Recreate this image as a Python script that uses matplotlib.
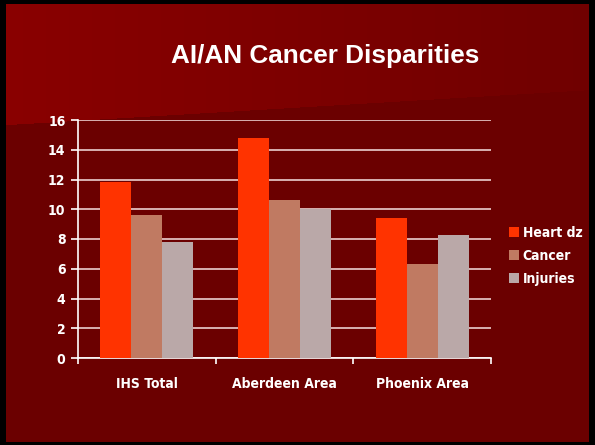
import numpy as np
import matplotlib
matplotlib.use("Agg")
import matplotlib.pyplot as plt
from matplotlib.patches import Rectangle

categories = ["IHS Total", "Aberdeen Area", "Phoenix Area"]
series_names = ["Heart dz", "Cancer", "Injuries"]
heart = [11.8, 14.8, 9.4]
cancer = [9.6, 10.6, 6.3]
injuries = [7.8, 10.0, 8.3]
yticks = [0, 2, 4, 6, 8, 10, 12, 14, 16]
colors = ["#FF3300", "#C07A62", "#BAA8A8"]

W, H = 595, 445
fig = plt.figure(figsize=(W / 100, H / 100), dpi=100)

# background gradient
bg = fig.add_axes([0, 0, 1, 1])
xx, yy = np.meshgrid(np.arange(W), np.arange(H))
low = np.array([0x6B, 0x00, 0x00]) / 255
top_l = np.array([0x8A, 0x00, 0x00]) / 255
top_r = np.array([0x70, 0x00, 0x00]) / 255
t = (xx / W)[..., None]
top = top_l * (1 - t) + top_r * t
boundary = 125 - 0.06 * xx
mask = (yy < boundary)[..., None]
img = np.where(mask, top, low)
bg.imshow(img, extent=[0, W, H, 0], aspect="auto")
bg.set_xlim(0, W)
bg.set_ylim(H, 0)
bg.axis("off")
# black border
for (x0, y0, w, h) in [(0, 0, W, 4), (0, 0, 6, H), (589, 0, 6, H), (0, 442, W, 3)]:
    bg.add_patch(Rectangle((x0, y0), w, h, color="black", lw=0))

fig.text(0.546, 0.874, "AI/AN Cancer Disparities", color="white",
         fontsize=18.8, fontweight="bold", family="Liberation Sans",
         ha="center", va="center")

ax = fig.add_axes([78 / W, 1 - 358 / H, (491 - 78) / W, (358 - 120) / H])
ax.set_facecolor("none")
x = np.arange(len(categories))
bw = 0.225
for i, (vals, name) in enumerate(zip([heart, cancer, injuries], series_names)):
    ax.bar(x + (i - 1) * bw, vals, width=bw, color=colors[i], label=name, zorder=3)

ax.set_xlim(-0.5, len(categories) - 0.5)
ax.set_ylim(0, 16)
ax.set_yticks(yticks)
ax.yaxis.grid(True, color="#EBCFCF", lw=1.2, zorder=1)
ax.set_axisbelow(True)
for s in ["top", "right"]:
    ax.spines[s].set_visible(False)
for s in ["left", "bottom"]:
    ax.spines[s].set_color("white")
    ax.spines[s].set_linewidth(1.2)
ax.set_xticks([-0.5, 0.5, 1.5, 2.5])
ax.set_xticklabels([])
ax.set_xticks(x, minor=True)
ax.set_xticklabels(categories, minor=True)
ax.tick_params(axis="x", which="major", length=4, width=1.2, color="white", direction="out")
ax.tick_params(axis="x", which="minor", length=0, pad=14, labelcolor="white")
ax.tick_params(axis="y", length=5, width=1.2, color="white", labelcolor="white", pad=4)
fam = ["DejaVu Sans"]
for lab in ax.get_yticklabels() + ax.get_xticklabels(minor=True):
    lab.set_family(fam)
    lab.set_fontweight("bold")
    lab.set_fontstretch("condensed")
    lab.set_fontsize(10)

leg = ax.legend(loc="center left", bbox_to_anchor=(1.03, 0.43), frameon=False,
                prop={"family": fam, "weight": "bold", "size": 10, "stretch": "condensed"},
                handlelength=0.7, handleheight=0.7, handletextpad=0.3,
                labelspacing=0.65, borderaxespad=0)
for t_ in leg.get_texts():
    t_.set_color("white")

fig.savefig("out.png", dpi=100)
